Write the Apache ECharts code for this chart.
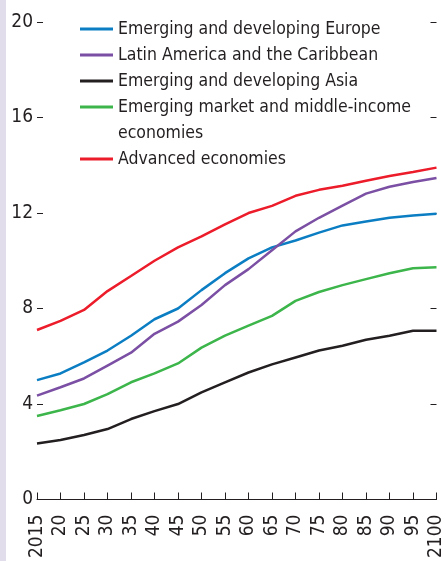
<!DOCTYPE html>
<html>
<head>
<meta charset="utf-8">
<script src="https://cdn.jsdelivr.net/npm/echarts@6/dist/echarts.min.js"></script>
<style>
  html, body { margin: 0; padding: 0; background: #fff; }
  #chart { width: 446px; height: 561px; }
</style>
</head>
<body>
<div id="chart"></div>
<script>
// 年份（每5年一个点）
const years = [2015, 2020, 2025, 2030, 2035, 2040, 2045, 2050, 2055, 2060,
  2065, 2070, 2075, 2080, 2085, 2090, 2095, 2100];

const europe = [5.0, 5.28, 5.74, 6.24, 6.86, 7.55, 8.0, 8.77, 9.48, 10.1,
  10.56, 10.85, 11.18, 11.48, 11.64, 11.8, 11.9, 11.97];
const latinAmerica = [4.35, 4.7, 5.07, 5.61, 6.15, 6.94, 7.45, 8.15, 8.98, 9.65,
  10.44, 11.23, 11.8, 12.31, 12.81, 13.1, 13.3, 13.47];
const asia = [2.35, 2.49, 2.7, 2.95, 3.37, 3.7, 4.0, 4.49, 4.91, 5.32,
  5.66, 5.95, 6.24, 6.44, 6.69, 6.86, 7.07, 7.07];
const emmie = [3.5, 3.74, 4.0, 4.41, 4.91, 5.28, 5.7, 6.36, 6.86, 7.28,
  7.69, 8.32, 8.69, 8.98, 9.23, 9.48, 9.69, 9.73];
const advanced = [7.1, 7.48, 7.94, 8.73, 9.36, 10.0, 10.56, 11.02, 11.52, 12.0,
  12.3, 12.72, 12.97, 13.14, 13.35, 13.55, 13.72, 13.9];

const seriesNames = [
  "Emerging and developing Europe",
  "Latin America and the Caribbean",
  "Emerging and developing Asia",
  "Emerging market and middle-income economies",
  "Advanced economies",
];
const seriesData = [europe, latinAmerica, asia, emmie, advanced];
const colors = ["#0b7ec3", "#7b4fa3", "#231f20", "#3cb54a", "#ec1c2a"];

const font = "'DejaVu Sans Condensed', sans-serif";
const textColor = "#231f20";

// 每个图例单独一个 legend，方便对齐两行文字
const legendTops = [16, 42, 68, 68, 146];
const legends = seriesNames.map((name, i) => {
  const twoLine = i === 3;
  return {
    left: 80,
    top: legendTops[i],
    orient: "vertical",
    padding: 0,
    itemGap: 0,
    itemWidth: 33,
    itemHeight: 3,
    icon: "rect",
    selectedMode: false,
    data: [name],
    // 前面空一行，让第一行文字和图标对齐
    formatter: twoLine ? () => "\nEmerging market and middle-income\neconomies" : undefined,
    textStyle: {
      fontFamily: font,
      fontSize: 17.5,
      color: textColor,
      lineHeight: 26,
    },
  };
});

const options = {
  animation: false,
  backgroundColor: "#fff",
  grid: {
    left: 37,
    right: -2,
    top: 22,
    bottom: 58,
  },
  graphic: [
    {
      type: "rect",
      shape: { x: 0, y: 0, width: 6, height: 561 },
      style: { fill: "#e2ddeb" },
      silent: true,
    },
  ],
  legend: legends,
  xAxis: {
    type: "value",
    min: 2015,
    max: 2100,
    interval: 5,
    axisLine: { lineStyle: { color: textColor, width: 1 } },
    axisTick: { inside: true, length: 7, lineStyle: { color: textColor } },
    axisLabel: {
      rotate: 90,
      margin: 15,
      fontFamily: font,
      fontSize: 19,
      color: textColor,
      showMinLabel: true,
      showMaxLabel: true,
      formatter: (v) => (v === 2015 || v === 2100 ? String(v) : String(v).slice(2)),
    },
    splitLine: { show: false },
  },
  yAxis: [
    {
      type: "value",
      min: 0,
      max: 20,
      interval: 4,
      axisLine: { show: false },
      axisTick: { show: true, inside: true, length: 6, lineStyle: { color: textColor } },
      axisLabel: { margin: 4, fontFamily: font, fontSize: 19, color: textColor },
      splitLine: { show: false },
    },
    {
      type: "value",
      position: "right",
      min: 0,
      max: 20,
      interval: 4,
      axisLine: { show: false },
      axisTick: { show: true, inside: true, length: 6, lineStyle: { color: textColor } },
      axisLabel: { show: false },
      splitLine: { show: false },
    },
  ],
  series: seriesNames.map((name, i) => ({
    name,
    type: "line",
    symbol: "none",
    color: colors[i],
    lineStyle: { width: 2.5, color: colors[i] },
    data: years.map((y, j) => [y, seriesData[i][j]]),
  })),
};

const chart = echarts.init(document.getElementById("chart"));
chart.setOption(options);
</script>
</body>
</html>
